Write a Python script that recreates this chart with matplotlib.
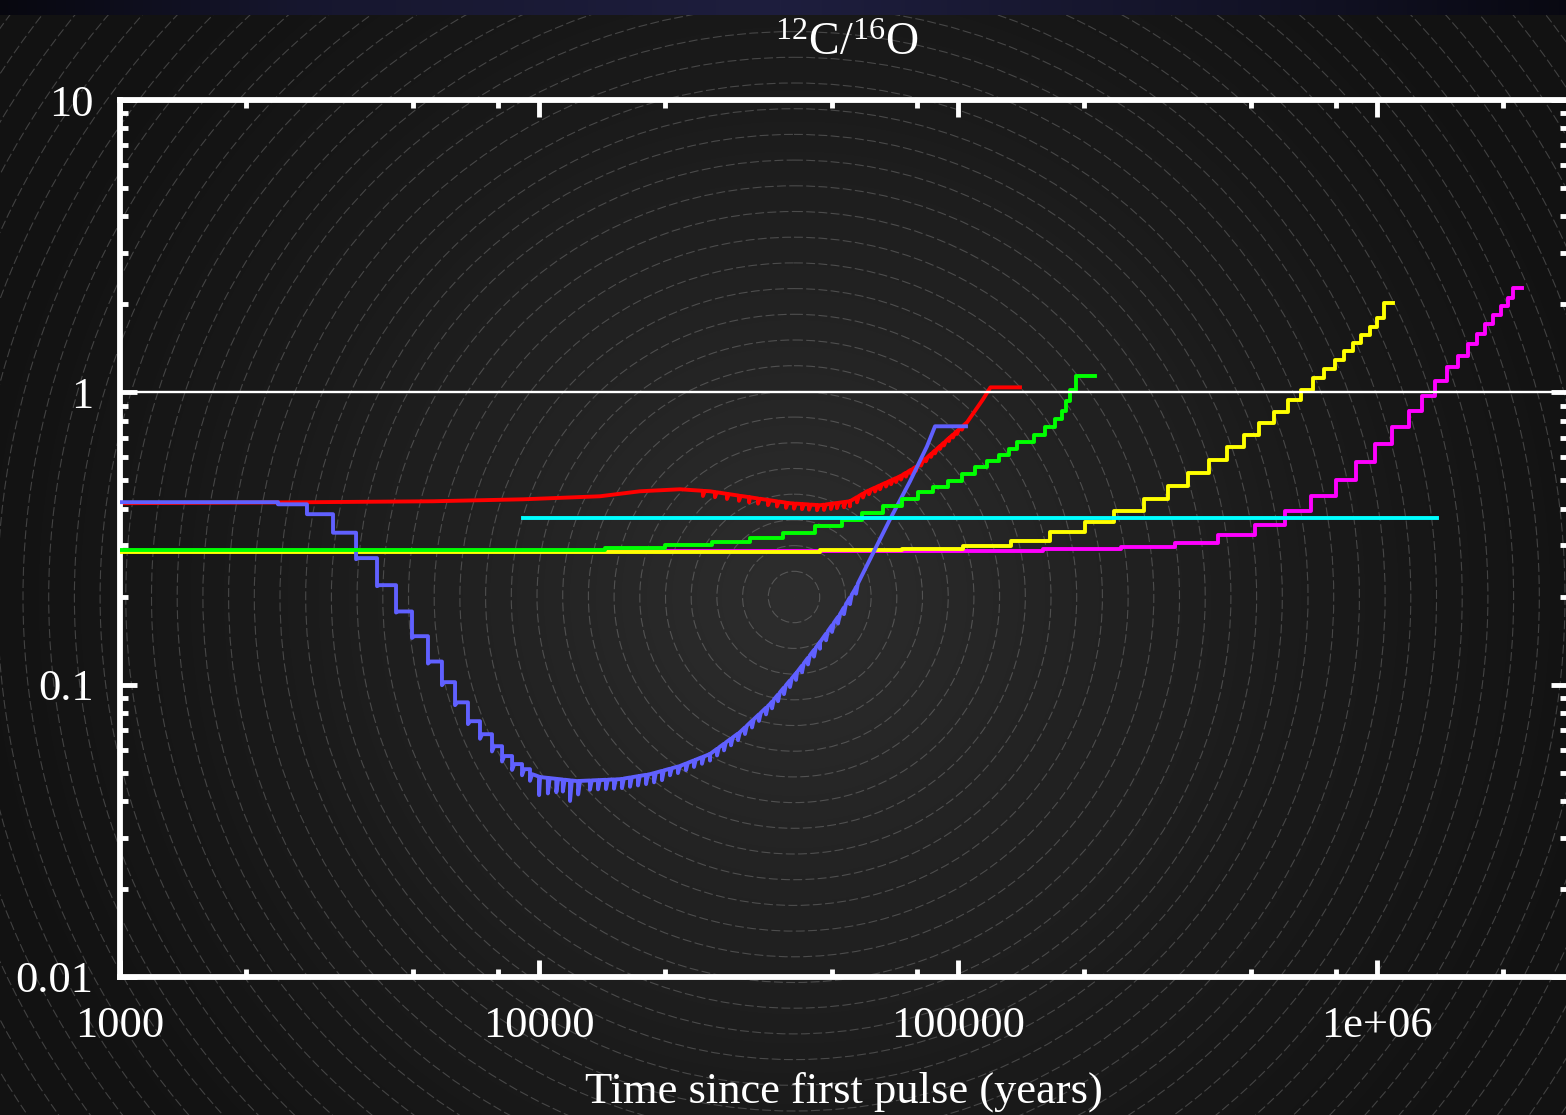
import numpy as np
import matplotlib
matplotlib.use('Agg')
import matplotlib.pyplot as plt
from matplotlib.patches import Circle, Rectangle
from matplotlib.ticker import FixedLocator, FixedFormatter, LogLocator, NullFormatter

plt.rcParams['font.family'] = ['Liberation Serif', 'DejaVu Serif']
plt.rcParams['mathtext.fontset'] = 'custom'
plt.rcParams['mathtext.rm'] = 'Liberation Serif'

W, H = 1566, 1115

# C12/O16 at the surface vs time since the first thermal pulse (years)
red_t = [1000, 2734, 5585, 9158, 13980, 17420, 21700, 25590, 31890, 39720,
         46840, 55240, 60640, 72710, 79840, 87170, 95700, 105100, 114700,
         119500, 140600]
red_r = [0.4175, 0.4207, 0.424, 0.4306, 0.441, 0.4587, 0.466, 0.4587, 0.4375,
         0.4175, 0.411, 0.424, 0.4587, 0.5161, 0.5585, 0.6236, 0.7017, 0.7898,
         0.9464, 1.04, 1.04]
red_tooth_t = [24620, 26300, 28100, 30010, 31710, 33320, 35200, 36980, 38870,
               40610, 42430, 44090, 46070, 47880, 49760, 51420, 53440, 55230,
               57400, 59330, 61320, 63380, 65140, 67330, 69210, 71130, 73110,
               75150, 77240, 79400, 81600, 83850, 86200, 88130, 90570, 92580,
               95160, 97290, 99450, 102200]
red_tooth_depth = [0.96] * 19 + [0.97] * 11 + [0.978] * 10

# blue: dredge-up steps (time, level after pulse, dip at the pulse)
blue_t0, blue_r0 = 1000, 0.421
blue_step_t = [2383, 2794, 3224, 3659, 4106, 4558, 4976, 5433, 5866, 6304,
               6768, 7230, 7724, 8163, 8625, 9110, 9517]
blue_step_r = [0.414, 0.383, 0.331, 0.271, 0.219, 0.178, 0.1465, 0.120, 0.102,
               0.087, 0.075, 0.0677, 0.0616, 0.0570, 0.0535, 0.0514, 0.0494]
blue_step_dip = [0.414, 0.383, 0.331, 0.2686, 0.2172, 0.1765, 0.1445, 0.1181,
                 0.0996, 0.0851, 0.0733, 0.0653, 0.0591, 0.0546, 0.0511,
                 0.0490, 0.0469]
blue_tail_t = [9800, 10060, 12320, 15610, 18410, 21700, 25590, 30180, 35590,
               41280, 46840, 52290, 56790, 61660, 68820, 76820, 84330, 88130,
               104500]
blue_tail_r = [0.0490, 0.0483, 0.0468, 0.0475, 0.0494, 0.0527, 0.0579, 0.0688,
               0.0858, 0.1103, 0.1397, 0.1742, 0.2121, 0.2686, 0.3679, 0.4962,
               0.6535, 0.7653, 0.7653]
blue_tooth_t = [10005, 10500, 11000, 11400, 11860, 12400, 13230, 13830, 14450,
                15100, 15780, 16490, 17230, 18010, 18820, 19660, 20540, 21460,
                22430, 23440, 24490, 25590, 26600, 27640, 28720, 29850, 31020,
                32240, 33500, 34820, 35980, 37190, 38430, 39720, 41060, 42430,
                43850, 45320, 46840, 48420, 50040, 51710, 53440, 55230, 57100]
blue_tooth_depth = [0.865, 0.885, 0.9, 0.91, 0.85, 0.9] + [0.93] * 10 + [0.95] * 29

green_t = [1000, 14400, 20000, 25900, 31900, 38200, 45600, 52900, 59000, 66200,
           73500, 80300, 87200, 94700, 102000, 110000, 117000, 125000, 132000,
           138000, 152000, 161000, 170000, 177000, 181000, 185000, 191000,
           212000]
green_r = [0.288, 0.293, 0.300, 0.307, 0.317, 0.330, 0.348, 0.365, 0.386, 0.408,
           0.431, 0.455, 0.473, 0.496, 0.524, 0.554, 0.581, 0.609, 0.639, 0.675,
           0.713, 0.759, 0.809, 0.861, 0.932, 1.016, 1.134, 1.134]

yellow_t = [1000, 46800, 73500, 102800, 133800, 165800, 201000, 235700, 277900,
            317100, 354000, 397200, 438500, 481500, 522900, 567900, 613200,
            658500, 703500, 747300, 793800, 834200, 876400, 915800, 962300,
            1000000, 1039000, 1092000]
yellow_r = [0.284, 0.288, 0.291, 0.298, 0.309, 0.332, 0.359, 0.392, 0.431,
            0.477, 0.529, 0.585, 0.649, 0.713, 0.783, 0.854, 0.939, 1.016,
            1.116, 1.198, 1.286, 1.381, 1.471, 1.566, 1.668, 1.791, 2.015, 2.015]

magenta_t = [1000, 159600, 244900, 329600, 417400, 511400, 603200, 695800,
             798300, 891000, 989000, 1086000, 1193000, 1281000, 1375000,
             1469000, 1561000, 1649000, 1733000, 1810000, 1892000, 1977000,
             2054000, 2111000, 2219000]
magenta_r = [0.287, 0.290, 0.2951, 0.3046, 0.3245, 0.351, 0.3918, 0.441, 0.5002,
             0.5763, 0.6642, 0.7593, 0.8614, 0.969, 1.091, 1.218, 1.328, 1.459,
             1.579, 1.708, 1.834, 1.968, 2.096, 2.268, 2.268]

cyan_t = [9160, 1390000]
cyan_r = [0.371, 0.371]

x_ticks = [1e3, 1e4, 1e5, 1e6]
x_labels = ['1000', '10000', '100000', '1e+06']
y_ticks = [0.01, 0.1, 1, 10]
y_labels = ['0.01', '0.1', '1', '10']


def with_teeth(t, r, tooth_t, tooth_depth):
    # insert the short downward spikes seen at each pulse
    lt, lr = np.log10(t), np.log10(r)
    pts = list(zip(t, r))
    for ti, d in zip(tooth_t, tooth_depth):
        base = 10 ** np.interp(np.log10(ti), lt, lr)
        after = 10 ** np.interp(np.log10(ti * 1.01), lt, lr)
        pts += [(ti * 0.9995, base), (ti, base * d), (ti * 1.01, after)]
    pts.sort()
    return [p[0] for p in pts], [p[1] for p in pts]


def blue_path():
    t, r = [blue_t0], [blue_r0]
    for ti, ri, di in zip(blue_step_t, blue_step_r, blue_step_dip):
        t += [ti, ti, ti * 1.012]
        r += [r[-1], di, ri]
    tt, tr = with_teeth(blue_tail_t, blue_tail_r, blue_tooth_t, blue_tooth_depth)
    return t + tt, r + tr


fig = plt.figure(figsize=(W / 100, H / 100), dpi=100)
fig.patch.set_facecolor('#111111')

# backdrop: radial glow, concentric rings, thin banner on top
bg = fig.add_axes([0, 0, 1, 1], zorder=-1)
yy, xx = np.mgrid[0:H, 0:W]
rr = np.hypot(xx - 794, yy - 597)
shade = (18 + 28 * np.clip(1 - rr / 870, 0, None) ** 1.3) / 255
img = np.dstack([shade, shade, shade])
glow = np.interp(np.arange(W), [0, 300, 780, 1300, 1566], [0.1, 0.7, 1.0, 0.5, 0.15])
img[:15, :, 0] = (5 + 25 * glow) / 255
img[:15, :, 1] = (5 + 25 * glow) / 255
img[:15, :, 2] = (10 + 52 * glow) / 255
bg.imshow(img, extent=(0, W, H, 0), interpolation='bilinear')
clip = Rectangle((0, 15), W, H - 15, transform=bg.transData)
for k in range(1, 42):
    ring = Circle((794, 597), 25.7 * k, fill=False, lw=0.8,
                  ec=(1, 1, 1, 0.2), ls=(0, (8, 3)))
    bg.add_patch(ring)
    ring.set_clip_path(clip)
bg.set_xlim(0, W)
bg.set_ylim(H, 0)
bg.axis('off')

ax = fig.add_axes([120 / W, 138 / H, 1448 / W, 877 / H])
ax.set_facecolor('none')
ax.set_xscale('log')
ax.set_yscale('log')

lw = 2.8
rt, rv = with_teeth(red_t, red_r, red_tooth_t, red_tooth_depth)
ax.plot(rt, rv, color='#ff0000', lw=lw, zorder=2)
ax.step(magenta_t, magenta_r, where='post', color='#ff00ff', lw=lw, zorder=3)
ax.step(yellow_t, yellow_r, where='post', color='#ffff00', lw=lw, zorder=4)
bt, br = blue_path()
ax.plot(bt, br, color='#6060ff', lw=lw, zorder=5)
ax.step(green_t, green_r, where='post', color='#00ff00', lw=lw, zorder=6)
ax.plot(cyan_t, cyan_r, color='#00ffff', lw=lw, zorder=7)
ax.axhline(1, color='white', lw=1.7, zorder=8)

ax.set_xlim(1000, 10 ** (3 + 1448 / 419))
ax.set_ylim(0.01, 10)

ax.xaxis.set_major_locator(FixedLocator(x_ticks))
ax.xaxis.set_major_formatter(FixedFormatter(x_labels))
ax.xaxis.set_minor_locator(LogLocator(base=10, subs=(2, 5, 8)))
ax.xaxis.set_minor_formatter(NullFormatter())
ax.yaxis.set_major_locator(FixedLocator(y_ticks))
ax.yaxis.set_major_formatter(FixedFormatter(y_labels))
ax.yaxis.set_minor_locator(LogLocator(base=10, subs=np.arange(2, 10)))
ax.yaxis.set_minor_formatter(NullFormatter())

ax.tick_params(which='both', direction='in', top=True, right=True,
               color='white', labelcolor='white', labelsize=32)
ax.tick_params(which='major', length=12, width=3.5)
ax.tick_params(which='minor', length=6, width=3.5)
ax.tick_params(axis='x', pad=21)
ax.tick_params(axis='y', pad=19)
for s in ax.spines.values():
    s.set_color('white')
    s.set_linewidth(4.2)

ax.set_xlabel('Time since first pulse (years)', color='white', fontsize=32)
ax.xaxis.set_label_coords(0.5, -0.108)
fig.text(847 / W, 1 - 55 / H, r'$\mathregular{^{12}C/^{16}O}$', ha='center',
         va='baseline', color='white', fontsize=33)

fig.savefig('out.png', dpi=100, facecolor=fig.get_facecolor())
